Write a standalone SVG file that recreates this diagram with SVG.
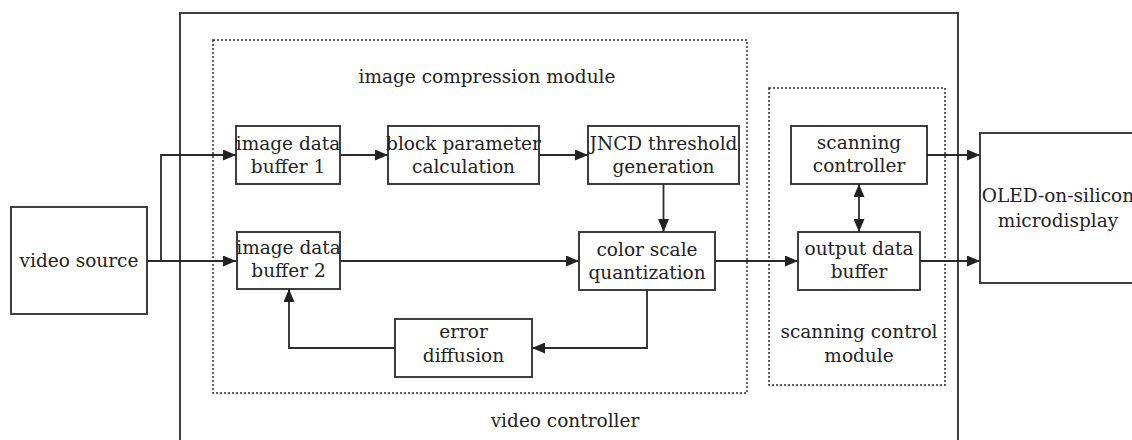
<svg xmlns="http://www.w3.org/2000/svg" width="1132" height="440" viewBox="0 0 1132 440">
  <style>
    .box { fill: none; stroke: #2a2a2a; stroke-width: 1.8; }
    .dash { fill: none; stroke: #2a2a2a; stroke-width: 1.5; stroke-dasharray: 2 2; }
    .ln { fill: none; stroke: #2a2a2a; stroke-width: 1.8; }
    text { font-family: "DejaVu Serif", "Liberation Serif", serif; font-size: 18.5px; fill: #222; text-anchor: middle; }
  </style>
  <defs>
    <marker id="ah" viewBox="0 0 13 11" refX="13" refY="5.5" markerWidth="13" markerHeight="11" markerUnits="userSpaceOnUse" orient="auto-start-reverse">
      <path d="M0,0 L13,5.5 L0,11 z" fill="#222"/>
    </marker>
  </defs>
  <rect width="1132" height="440" fill="#ffffff"/>

  <g id="video-controller">
    <rect class="box" x="180" y="13" width="778" height="440"/>
    <text x="565" y="427">video controller</text>
  </g>
  <g id="image-compression-module">
    <rect class="dash" x="213" y="40" width="534" height="353"/>
    <text x="487" y="83">image compression module</text>
  </g>
  <g id="scanning-control-module">
    <rect class="dash" x="769" y="88" width="176" height="297"/>
    <text x="859" y="338">scanning control</text>
    <text x="859" y="362">module</text>
  </g>

  <g id="video-source">
    <rect class="box" x="11" y="207" width="136" height="107"/>
    <text x="79" y="267">video source</text>
  </g>
  <g id="image-data-buffer-1">
    <rect class="box" x="236" y="126" width="104" height="58"/>
    <text x="288" y="150">image data</text>
    <text x="288" y="173">buffer 1</text>
  </g>
  <g id="block-parameter-calculation">
    <rect class="box" x="388" y="126" width="151" height="58"/>
    <text x="463.5" y="150">block parameter</text>
    <text x="463.5" y="173">calculation</text>
  </g>
  <g id="jncd-threshold-generation">
    <rect class="box" x="588" y="126" width="151" height="58"/>
    <text x="663.5" y="150">JNCD threshold</text>
    <text x="663.5" y="173">generation</text>
  </g>
  <g id="scanning-controller">
    <rect class="box" x="791" y="126" width="136" height="58"/>
    <text x="859" y="149">scanning</text>
    <text x="859" y="172">controller</text>
  </g>
  <g id="oled-microdisplay">
    <rect class="box" x="980" y="133" width="170" height="150"/>
    <text x="1058" y="202">OLED-on-silicon</text>
    <text x="1058" y="227">microdisplay</text>
  </g>
  <g id="image-data-buffer-2">
    <rect class="box" x="237" y="232" width="103" height="57"/>
    <text x="288.5" y="254">image data</text>
    <text x="288.5" y="277">buffer 2</text>
  </g>
  <g id="color-scale-quantization">
    <rect class="box" x="579" y="232" width="136" height="58"/>
    <text x="647" y="256">color scale</text>
    <text x="647" y="279">quantization</text>
  </g>
  <g id="output-data-buffer">
    <rect class="box" x="798" y="232" width="122" height="58"/>
    <text x="859" y="255">output data</text>
    <text x="859" y="278">buffer</text>
  </g>
  <g id="error-diffusion">
    <rect class="box" x="395" y="319" width="137" height="58"/>
    <text x="463.5" y="338">error</text>
    <text x="463.5" y="362">diffusion</text>
  </g>

  <g id="connectors">
    <path class="ln" d="M147,261 L236,261" marker-end="url(#ah)"/>
    <path class="ln" d="M161,261 L161,155 L236,155" marker-end="url(#ah)"/>
    <path class="ln" d="M340,155 L388,155" marker-end="url(#ah)"/>
    <path class="ln" d="M539,155 L588,155" marker-end="url(#ah)"/>
    <path class="ln" d="M663.5,184 L663.5,232" marker-end="url(#ah)"/>
    <path class="ln" d="M340,261 L579,261" marker-end="url(#ah)"/>
    <path class="ln" d="M715,261 L798,261" marker-end="url(#ah)"/>
    <path class="ln" d="M647,290 L647,348 L532,348" marker-end="url(#ah)"/>
    <path class="ln" d="M395,348 L289,348 L289,289" marker-end="url(#ah)"/>
    <path class="ln" d="M859,184 L859,232" marker-start="url(#ah)" marker-end="url(#ah)"/>
    <path class="ln" d="M927,155 L980,155" marker-end="url(#ah)"/>
    <path class="ln" d="M920,261 L980,261" marker-end="url(#ah)"/>
  </g>
</svg>
